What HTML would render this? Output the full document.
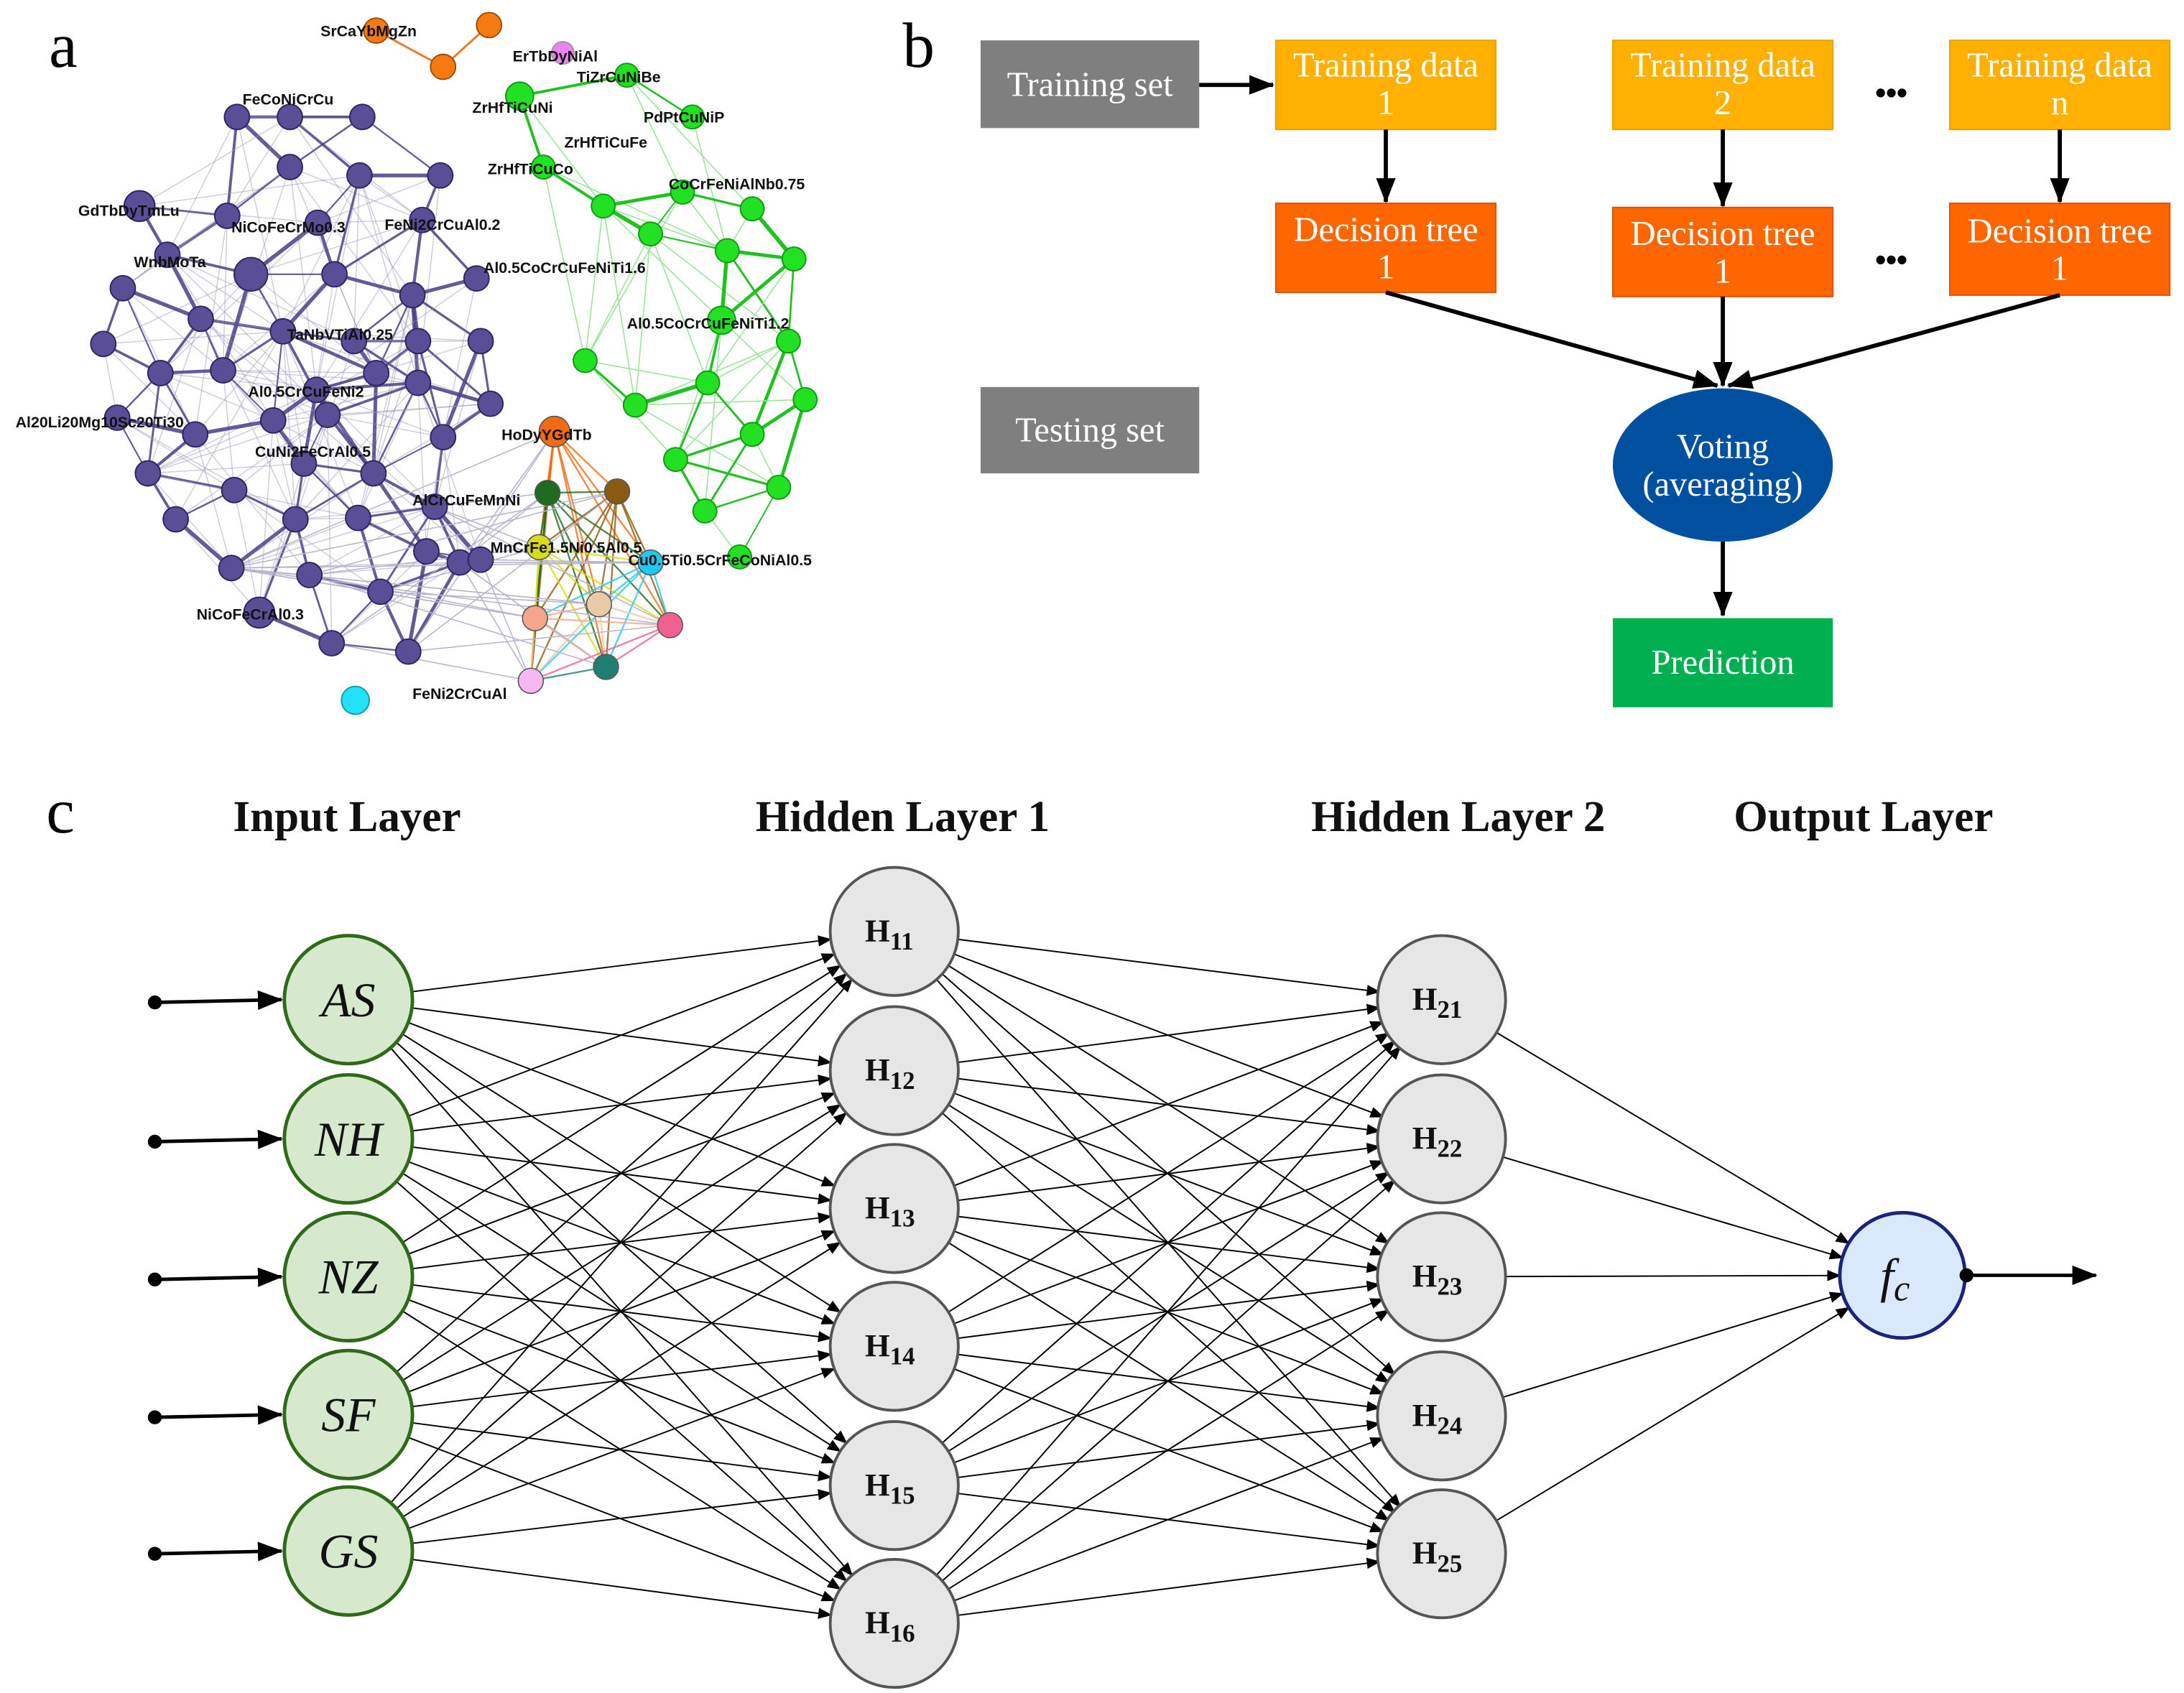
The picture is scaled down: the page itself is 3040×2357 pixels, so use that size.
<!DOCTYPE html>
<html><head><meta charset="utf-8">
<style>
html,body{margin:0;padding:0;background:#fff;}
svg{display:block;}
.lab{font-family:"Liberation Serif",serif;font-size:46px;}
.nl{font-family:"Liberation Sans",sans-serif;font-size:11px;font-weight:bold;fill:#111;}
.bx{font-family:"Liberation Serif",serif;font-size:25px;fill:#fff;}
.tt{font-family:"Liberation Serif",serif;font-size:31.5px;font-weight:bold;fill:#111;}
.hn{font-family:"Liberation Serif",serif;font-size:23px;font-weight:bold;fill:#111;}
.in{font-family:"Liberation Serif",serif;font-size:35px;font-style:italic;fill:#111;}
</style></head><body>
<svg id="s" width="3040" height="2357" viewBox="0 0 1568 1216" xmlns="http://www.w3.org/2000/svg">
<defs>
<marker id="ah" markerWidth="10" markerHeight="8" refX="9" refY="4" orient="auto" markerUnits="userSpaceOnUse"><path d="M0,0 L10,4 L0,8 Z" fill="#000"/></marker>
<marker id="ab" markerWidth="18" markerHeight="14" refX="17" refY="7" orient="auto" markerUnits="userSpaceOnUse"><path d="M0,0 L18,7 L0,14 Z" fill="#000"/></marker>
</defs>
<text class="lab" x="35" y="48">a</text>
<text class="lab" x="648" y="48">b</text>
<text class="lab" x="33" y="598">c</text>
<g id="net"></g>
<g id="netn"></g>
<g class="nlabels">
<text class="nl" x="230" y="26">SrCaYbMgZn</text>
<text class="nl" x="368" y="44">ErTbDyNiAl</text>
<text class="nl" x="414" y="59">TiZrCuNiBe</text>
<text class="nl" x="174" y="75">FeCoNiCrCu</text>
<text class="nl" x="339" y="81">ZrHfTiCuNi</text>
<text class="nl" x="462" y="88">PdPtCuNiP</text>
<text class="nl" x="405" y="106">ZrHfTiCuFe</text>
<text class="nl" x="350" y="125">ZrHfTiCuCo</text>
<text class="nl" x="480" y="136">CoCrFeNiAlNb0.75</text>
<text class="nl" x="56" y="155">GdTbDyTmLu</text>
<text class="nl" x="166" y="167">NiCoFeCrMo0.3</text>
<text class="nl" x="276" y="165">FeNi2CrCuAl0.2</text>
<text class="nl" x="96" y="192">WnbMoTa</text>
<text class="nl" x="347" y="196">Al0.5CoCrCuFeNiTi1.6</text>
<text class="nl" x="450" y="236">Al0.5CoCrCuFeNiTi1.2</text>
<text class="nl" x="206" y="244">TaNbVTiAl0.25</text>
<text class="nl" x="178" y="285">Al0.5CrCuFeNi2</text>
<text class="nl" x="11" y="307">Al20Li20Mg10Sc20Ti30</text>
<text class="nl" x="360" y="316">HoDyYGdTb</text>
<text class="nl" x="183" y="328">CuNi2FeCrAl0.5</text>
<text class="nl" x="296" y="363">AlCrCuFeMnNi</text>
<text class="nl" x="352" y="397">MnCrFe1.5Ni0.5Al0.5</text>
<text class="nl" x="451" y="406">Cu0.5Ti0.5CrFeCoNiAl0.5</text>
<text class="nl" x="141" y="445">NiCoFeCrAl0.3</text>
<text class="nl" x="296" y="502">FeNi2CrCuAl</text>
</g>

<g>
<rect x="704" y="29" width="157" height="63" fill="#7F7F7F"/>
<text class="bx" x="782.5" y="69" text-anchor="middle">Training set</text>
<rect x="704" y="278" width="157" height="62" fill="#7F7F7F"/>
<text class="bx" x="782.5" y="317" text-anchor="middle">Testing set</text>
<g stroke="#E8A000" stroke-width="1">
<rect x="916" y="29" width="158" height="64" fill="#FFB000"/>
<rect x="1158" y="29" width="158" height="64" fill="#FFB000"/>
<rect x="1400" y="29" width="158" height="64" fill="#FFB000"/>
</g>
<g stroke="#E05000" stroke-width="1">
<rect x="916" y="146" width="158" height="64" fill="#FF6600"/>
<rect x="1158" y="149" width="158" height="64" fill="#FF6600"/>
<rect x="1400" y="146" width="158" height="66" fill="#FF6600"/>
</g>
<text class="bx" text-anchor="middle"><tspan x="995" y="55">Training data</tspan><tspan x="995" y="82">1</tspan></text>
<text class="bx" text-anchor="middle"><tspan x="1237" y="55">Training data</tspan><tspan x="1237" y="82">2</tspan></text>
<text class="bx" text-anchor="middle"><tspan x="1479" y="55">Training data</tspan><tspan x="1479" y="82">n</tspan></text>
<text class="bx" text-anchor="middle"><tspan x="995" y="173">Decision tree</tspan><tspan x="995" y="200">1</tspan></text>
<text class="bx" text-anchor="middle"><tspan x="1237" y="176">Decision tree</tspan><tspan x="1237" y="203">1</tspan></text>
<text class="bx" text-anchor="middle"><tspan x="1479" y="174">Decision tree</tspan><tspan x="1479" y="201">1</tspan></text>
<text x="1358" y="74" text-anchor="middle" font-family="Liberation Sans" font-size="22" font-weight="bold">•••</text>
<text x="1358" y="194" text-anchor="middle" font-family="Liberation Sans" font-size="22" font-weight="bold">•••</text>
<g stroke="#000" stroke-width="3" fill="none">
<line x1="861" y1="61" x2="914" y2="61" marker-end="url(#ab)"/>
<line x1="995" y1="93" x2="995" y2="145" marker-end="url(#ab)"/>
<line x1="1237" y1="93" x2="1237" y2="148" marker-end="url(#ab)"/>
<line x1="1479" y1="93" x2="1479" y2="145" marker-end="url(#ab)"/>
<line x1="995" y1="210" x2="1233" y2="277" marker-end="url(#ab)"/>
<line x1="1237" y1="213" x2="1237" y2="277" marker-end="url(#ab)"/>
<line x1="1479" y1="212" x2="1241" y2="277" marker-end="url(#ab)"/>
<line x1="1237" y1="389" x2="1237" y2="442" marker-end="url(#ab)"/>
</g>
<ellipse cx="1237" cy="334" rx="79" ry="55" fill="#0050A0"/>
<text class="bx" text-anchor="middle"><tspan x="1237" y="329">Voting</tspan><tspan x="1237" y="356">(averaging)</tspan></text>
<rect x="1158" y="444" width="158" height="64" fill="#00B050"/>
<text class="bx" x="1237" y="484" text-anchor="middle">Prediction</text>
</g>

<text class="tt" x="249" y="597" text-anchor="middle">Input Layer</text>
<text class="tt" x="648" y="597" text-anchor="middle">Hidden Layer 1</text>
<text class="tt" x="1047" y="597" text-anchor="middle">Hidden Layer 2</text>
<text class="tt" x="1338" y="597" text-anchor="middle">Output Layer</text>
<g id="nn"></g>
</svg>
<script>
var NS="http://www.w3.org/2000/svg";
function el(p,t,a){var e=document.createElementNS(NS,t);for(var k in a)e.setAttribute(k,a[k]);p.appendChild(e);return e;}
var net=document.getElementById('net'),netn=document.getElementById('netn');
var P=[[170,84],[208,84],[260,84],[100,148],[163,155],[208,120],[258,126],[316,126],[303,158],[228,160],[180,197],[120,183],[88,207],[240,197],[296,212],[342,200],[144,229],[74,247],[203,238],[254,245],[300,245],[345,245],[115,268],[160,266],[227,280],[270,268],[300,275],[352,290],[84,300],[140,312],[196,302],[235,298],[318,314],[106,340],[168,352],[218,333],[268,340],[126,373],[212,373],[257,372],[312,364],[166,408],[222,413],[273,425],[306,396],[330,404],[186,440],[238,462],[293,468],[345,402]];
var big={3:11,10:12,46:11};
var G=[[373,69],[450,54],[497,84],[390,120],[433,148],[490,138],[540,150],[467,168],[522,180],[570,186],[420,259],[518,230],[566,245],[456,291],[508,275],[578,287],[540,312],[485,330],[506,367],[559,350],[531,400]];
function d(a,b){return Math.hypot(a[0]-b[0],a[1]-b[1]);}
var seed=7;function rnd(){seed=(seed*9301+49297)%233280;return seed/233280;}
for(var i=0;i<P.length;i++)for(var j=i+1;j<P.length;j++){var dd=d(P[i],P[j]);
 if(dd<75&&rnd()<0.75)el(net,'line',{x1:P[i][0],y1:P[i][1],x2:P[j][0],y2:P[j][1],stroke:'#4B3F86','stroke-width':(1+rnd()*2).toFixed(1),opacity:0.85});
 else if(dd<170&&rnd()<0.2)el(net,'line',{x1:P[i][0],y1:P[i][1],x2:P[j][0],y2:P[j][1],stroke:'#9A93BD','stroke-width':0.7,opacity:0.5});}
for(var i=0;i<G.length;i++)for(var j=i+1;j<G.length;j++){var dd=d(G[i],G[j]);
 if(dd<80&&rnd()<0.8)el(net,'line',{x1:G[i][0],y1:G[i][1],x2:G[j][0],y2:G[j][1],stroke:'#22C022','stroke-width':(1+rnd()*2).toFixed(1)});
 else if(dd<150&&rnd()<0.3)el(net,'line',{x1:G[i][0],y1:G[i][1],x2:G[j][0],y2:G[j][1],stroke:'#9BE39B','stroke-width':0.8});}
var O=[[398,310,'#F26B12',11],[393,354,'#1F6B1F',9],[443,353,'#8B5A12',9],[387,393,'#D7DB1A',9],[467,404,'#22C8F0',9],[384,444,'#F5A58A',9],[430,434,'#E8C9A8',9],[481,449,'#F06090',9],[435,479,'#1F7F70',9],[381,489,'#F5B8F0',9]];
for(var i=0;i<O.length;i++)for(var j=i+1;j<O.length;j++){el(net,'line',{x1:O[i][0],y1:O[i][1],x2:O[j][0],y2:O[j][1],stroke:O[i][2],'stroke-width':1.2,opacity:0.8});}
for(var i=0;i<O.length;i++){for(var k=0;k<3;k++){var p=P[40+Math.floor(rnd()*10)];el(net,'line',{x1:O[i][0],y1:O[i][1],x2:p[0],y2:p[1],stroke:'#b8b4cc','stroke-width':0.8});}}
el(net,'polyline',{points:'270,22 318,48 351,18',fill:'none',stroke:'#F07820','stroke-width':1.5});
el(net,'polyline',{points:'373,69 390,120 433,148',fill:'none',stroke:'#22C022','stroke-width':2});
el(net,'line',{x1:373,y1:69,x2:450,y2:54,stroke:'#22C022','stroke-width':2});
P.forEach(function(p,i){el(netn,'circle',{cx:p[0],cy:p[1],r:big[i]||9,fill:'#5A4E96',stroke:'#2d2560','stroke-width':1});});
G.forEach(function(p,i){el(netn,'circle',{cx:p[0],cy:p[1],r:(i==0||i==11)?10:8.5,fill:'#22E022',stroke:'#119911','stroke-width':1});});
O.forEach(function(o){el(netn,'circle',{cx:o[0],cy:o[1],r:o[3],fill:o[2],stroke:'#555','stroke-width':0.8});});
[[270,22],[318,48],[351,18]].forEach(function(p){el(netn,'circle',{cx:p[0],cy:p[1],r:9,fill:'#F57A12',stroke:'#a04a00'});});
el(netn,'circle',{cx:404,cy:38,r:8,fill:'#EE82EE',stroke:'#999'});
el(netn,'circle',{cx:255,cy:503,r:10,fill:'#22E0F5',stroke:'#1199aa'});

var nn=document.getElementById('nn');
var I=[718,818,917,1016,1114],H1=[669,769,868,967,1067,1166],H2=[718,818,917,1017,1116];
var ix=250,h1x=642,h2x=1035,ox=1366,oy=916,R=46;
function conn(x1,Y1,x2,Y2,r1,r2){Y1.forEach(function(a){Y2.forEach(function(b){var dx=x2-x1,dy=b-a,L=Math.hypot(dx,dy);
 el(nn,'line',{x1:x1+dx/L*r1,y1:a+dy/L*r1,x2:x2-dx/L*r2,y2:b-dy/L*r2,stroke:'#000','stroke-width':1,'marker-end':'url(#ah)'});});});}
conn(ix,I,h1x,H1,R,R);conn(h1x,H1,h2x,H2,R,45);
H2.forEach(function(b){var dx=ox-h2x,dy=oy-b,L=Math.hypot(dx,dy);el(nn,'line',{x1:h2x+dx/L*45,y1:b+dy/L*45,x2:ox-dx/L*45,y2:oy-dy/L*45,stroke:'#000','stroke-width':1,'marker-end':'url(#ah)'});});
I.forEach(function(y){el(nn,'line',{x1:111,y1:y+2,x2:202,y2:y,stroke:'#000','stroke-width':2.5,'marker-end':'url(#ab)'});el(nn,'circle',{cx:111,cy:y+2,r:5,fill:'#000'});});
el(nn,'line',{x1:1412,y1:916,x2:1505,y2:916,stroke:'#000','stroke-width':2.5,'marker-end':'url(#ab)'});
var IL=['AS','NH','NZ','SF','GS'];
I.forEach(function(y,i){el(nn,'circle',{cx:ix,cy:y,r:R,fill:'#D6E9CC',stroke:'#2F6A1A','stroke-width':2.5});var t=el(nn,'text',{x:ix,y:y+12,'text-anchor':'middle','class':'in'});t.textContent=IL[i];});
function hn(x,y,sub){el(nn,'circle',{cx:x,cy:y,r:R,fill:'#E6E6E6',stroke:'#555','stroke-width':2});var t=el(nn,'text',{x:x-21,y:y+7,'class':'hn'});var a=el(t,'tspan',{});a.textContent='H';var b=el(t,'tspan',{dy:6,'font-size':18});b.textContent=sub;}
H1.forEach(function(y,i){hn(h1x,y,'1'+(i+1));});
H2.forEach(function(y,i){hn(h2x,y,'2'+(i+1));});
el(nn,'circle',{cx:ox,cy:oy,r:45,fill:'#DAE8FC',stroke:'#1a237e','stroke-width':2.5});
el(nn,'circle',{cx:1412,cy:916,r:5,fill:'#000'});
var t=el(nn,'text',{x:ox-16,y:oy+12,'class':'in'});var a=el(t,'tspan',{});a.textContent='f';var b=el(t,'tspan',{dy:6,'font-size':26});b.textContent='c';
</script>
</body></html>
